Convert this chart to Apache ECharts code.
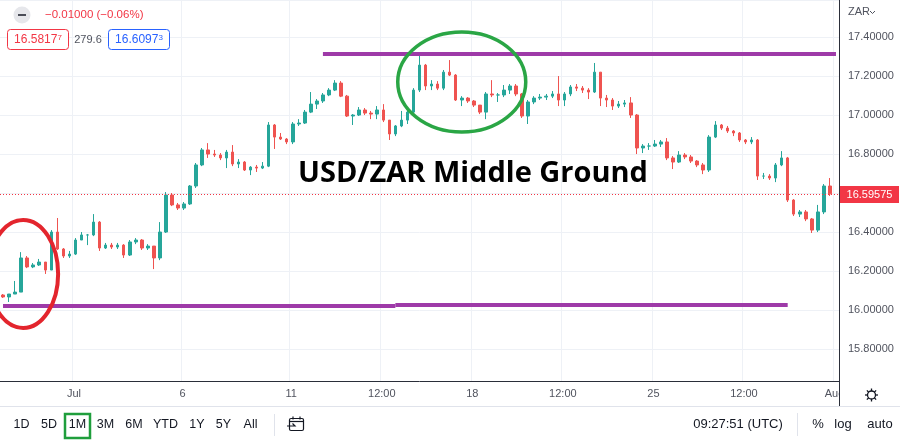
<!DOCTYPE html>
<html><head><meta charset="utf-8">
<script src="https://cdn.jsdelivr.net/npm/echarts@6/dist/echarts.min.js"></script>
<style>html,body{margin:0;padding:0;background:#fff}#c{width:900px;height:442px}</style>
</head><body><div id="c"></div>
<script>
// ---- categories (4-hour slots, trading days only) ----
const days = ['Jun 29','Jun 30','Jul 1','Jul 4','Jul 5','Jul 6','Jul 7','Jul 8','Jul 11','Jul 12','Jul 13','Jul 14','Jul 15','Jul 18','Jul 19','Jul 20','Jul 21','Jul 22','Jul 25','Jul 26','Jul 27','Jul 28','Jul 29'];
const hours = ['00:00','04:00','08:00','12:00','16:00','20:00'];
const lastSlot = 'Aug 1 00:00';
const categories = [];
days.forEach(d => hours.forEach(h => categories.push(d + ' ' + h)));
categories.push(lastSlot);

// ---- x tick labels ----
const tickCats = ['Jul 1 00:00','Jul 6 00:00','Jul 11 00:00','Jul 13 12:00','Jul 18 00:00','Jul 20 12:00','Jul 25 00:00','Jul 27 12:00','Aug 1 00:00'];
const tickLabels = ['Jul','6','11','12:00','18','12:00','25','12:00','Aug'];

// ---- OHLC values ----
const opens = [16.077,16.067,16.082,16.092,16.267,16.221,16.231,16.246,16.205,16.400,
16.313,16.277,16.287,16.359,16.385,16.385,16.451,16.318,16.333,16.323,
16.333,16.282,16.349,16.359,16.318,16.328,16.267,16.400,16.590,16.539,
16.523,16.544,16.636,16.744,16.821,16.800,16.795,16.780,16.810,16.749,
16.759,16.718,16.733,16.728,16.738,16.949,16.887,16.877,16.862,16.954,
16.959,17.015,17.056,17.072,17.103,17.128,17.164,17.097,16.995,17.000,
17.026,17.010,17.005,17.026,16.974,16.903,16.944,16.974,17.015,17.128,
17.256,17.149,17.159,17.138,17.220,17.205,17.077,17.087,17.072,17.051,
17.015,17.108,17.103,17.103,17.128,17.149,17.108,16.995,17.067,17.087,
17.092,17.097,17.108,17.077,17.108,17.144,17.138,17.128,17.118,17.220,
17.087,17.077,17.046,17.056,17.062,17.000,16.831,16.841,16.841,16.851,
16.862,16.780,16.759,16.795,16.785,16.764,16.744,16.718,16.887,16.949,
16.933,16.918,16.908,16.872,16.862,16.872,16.687,16.687,16.677,16.744,
16.780,16.564,16.492,16.503,16.467,16.410,16.503,16.636];
const closes = [16.067,16.082,16.092,16.267,16.221,16.231,16.246,16.205,16.400,16.313,
16.277,16.287,16.359,16.385,16.385,16.451,16.318,16.333,16.323,16.333,
16.282,16.349,16.359,16.318,16.328,16.267,16.400,16.590,16.539,16.523,
16.544,16.636,16.744,16.821,16.800,16.795,16.780,16.810,16.749,16.759,
16.718,16.733,16.728,16.738,16.949,16.887,16.877,16.862,16.954,16.959,
17.015,17.056,17.072,17.103,17.128,17.164,17.097,16.995,17.000,17.026,
17.010,17.005,17.026,16.974,16.903,16.944,16.974,17.015,17.128,17.256,
17.149,17.159,17.138,17.220,17.205,17.077,17.087,17.072,17.051,17.015,
17.108,17.103,17.103,17.128,17.149,17.108,16.995,17.067,17.087,17.092,
17.097,17.108,17.077,17.108,17.144,17.138,17.128,17.118,17.220,17.087,
17.077,17.046,17.056,17.062,17.000,16.831,16.841,16.841,16.851,16.862,
16.780,16.759,16.795,16.785,16.764,16.744,16.718,16.887,16.949,16.933,
16.918,16.908,16.872,16.862,16.872,16.687,16.687,16.677,16.744,16.780,
16.564,16.492,16.503,16.467,16.410,16.503,16.636,16.59575];
const highs = [16.082,16.082,16.149,16.297,16.277,16.241,16.262,16.246,16.410,16.472,
16.318,16.303,16.369,16.400,16.390,16.492,16.456,16.344,16.344,16.344,
16.338,16.359,16.369,16.364,16.338,16.328,16.451,16.605,16.600,16.549,
16.554,16.641,16.754,16.831,16.856,16.821,16.805,16.821,16.846,16.774,
16.764,16.738,16.744,16.759,16.964,16.954,16.908,16.882,16.964,16.979,
17.026,17.118,17.082,17.113,17.138,17.179,17.174,17.103,17.005,17.041,
17.036,17.021,17.046,17.056,16.974,16.949,17.021,17.036,17.138,17.303,
17.262,17.179,17.174,17.231,17.282,17.210,17.097,17.092,17.077,17.051,
17.118,17.179,17.113,17.154,17.159,17.159,17.113,17.077,17.097,17.108,
17.108,17.123,17.200,17.118,17.154,17.159,17.149,17.138,17.267,17.220,
17.103,17.087,17.072,17.077,17.092,17.005,16.851,16.856,16.872,16.872,
16.882,16.790,16.815,16.805,16.795,16.769,16.754,16.897,16.969,16.954,
16.944,16.923,16.913,16.877,16.887,16.877,16.703,16.697,16.754,16.815,
16.785,16.569,16.513,16.513,16.472,16.539,16.646,16.677];
const lows = [16.062,16.041,16.082,16.092,16.215,16.215,16.226,16.185,16.205,16.308,
16.267,16.267,16.282,16.359,16.333,16.379,16.303,16.313,16.313,16.313,
16.267,16.277,16.338,16.308,16.308,16.210,16.256,16.395,16.533,16.513,
16.513,16.539,16.626,16.738,16.780,16.785,16.769,16.728,16.738,16.728,
16.713,16.692,16.708,16.723,16.733,16.826,16.872,16.851,16.851,16.944,
16.954,17.010,17.031,17.062,17.097,17.123,17.092,16.990,16.949,16.995,
17.000,16.979,16.979,16.964,16.872,16.892,16.938,16.954,17.010,17.118,
17.128,17.128,17.128,17.128,17.200,17.072,17.046,17.062,17.041,17.005,
16.979,17.092,17.067,17.092,17.108,17.097,16.985,16.954,17.056,17.077,
17.077,17.087,17.046,17.046,17.097,17.123,17.113,17.082,17.113,17.046,
17.041,17.026,17.036,17.041,16.985,16.800,16.805,16.821,16.836,16.836,
16.769,16.723,16.754,16.774,16.754,16.733,16.697,16.708,16.882,16.923,
16.908,16.892,16.862,16.851,16.851,16.667,16.672,16.667,16.656,16.738,
16.554,16.482,16.477,16.456,16.395,16.400,16.492,16.585];

const lastPrice = 16.59575;
// annotation levels
const resistance = {from:'Jul 11 20:00', to:'Aug 1 00:00', price:17.315};
const supportA = {from:'Jun 29 00:00', to:'Jul 13 20:00', price:16.023};
const supportB = {from:'Jul 13 20:00', to:'Jul 28 16:00', price:16.028};
const redRing = {cat:'Jun 29 12:00', price:16.185};
const greenRing = {cat:'Jul 15 16:00', price:17.169};

const FONT = "'Liberation Sans',Arial,sans-serif";
const UP = '#26a69a', DOWN = '#ef5350', PURPLE = '#9e3aa8', PRICE_RED = '#f23645';
const GRIDC = '#eef1f6', TXT = '#131722', AXT = '#50535e';

const ohlc = closes.map((c, i) => [opens[i], c, lows[i], highs[i]]);

const chart = echarts.init(document.getElementById('c'), null, {renderer:'canvas'});
chart.setOption({
  animation:false,
  backgroundColor:'#ffffff',
  textStyle:{fontFamily:FONT},
  grid:{left:0, right:61, top:0, bottom:61},
  xAxis:{
    type:'category', data:categories, boundaryGap:true,
    axisLine:{lineStyle:{color:'#2a2e39', width:1}},
    axisTick:{show:false},
    axisLabel:{
      interval:(i, v) => tickCats.includes(v),
      formatter:(v) => { const k = tickCats.indexOf(v); return k >= 0 ? tickLabels[k] : ''; },
      color:AXT, fontSize:11, margin:7, padding:[0,3,0,0], fontFamily:FONT
    },
    splitLine:{show:true, interval:(i, v) => tickCats.includes(v), lineStyle:{color:GRIDC, width:1}}
  },
  yAxis:{
    type:'value', position:'right', min:15.636, max:17.590, splitNumber:10,
    axisLine:{show:true, lineStyle:{color:'#2a2e39', width:1}},
    axisTick:{show:false},
    axisLabel:{formatter:v => v.toFixed(5), color:AXT, fontSize:11, margin:9, showMinLabel:false, showMaxLabel:false, fontFamily:FONT},
    splitLine:{show:true, lineStyle:{color:GRIDC, width:1}}
  },
  series:[{
    type:'candlestick', data:ohlc, barWidth:'50%',
    itemStyle:{color:UP, color0:DOWN, borderColor:UP, borderColor0:DOWN, borderWidth:1},
    markLine:{
      symbol:['none','none'], silent:true, animation:false,
      label:{show:false},
      data:[
        [{coord:[resistance.from, resistance.price], lineStyle:{color:PURPLE, width:4, type:'solid'}},
         {coord:[resistance.to, resistance.price]}],
        [{coord:[supportA.from, supportA.price], lineStyle:{color:PURPLE, width:4, type:'solid'}},
         {coord:[supportA.to, supportA.price]}],
        [{coord:[supportB.from, supportB.price], lineStyle:{color:PURPLE, width:4, type:'solid'}},
         {coord:[supportB.to, supportB.price]}]
      ]
    }
  }]
});

const rp = chart.convertToPixel({gridIndex:0}, [redRing.cat, redRing.price]);
const gp = chart.convertToPixel({gridIndex:0}, [greenRing.cat, greenRing.price]);
const lp = chart.convertToPixel({gridIndex:0}, [lastSlot, lastPrice]);
const lastY = Math.round(lp[1]) + 0.5;

function txt(x, y, s, opt, z) {
  return {type:'text', x:x, y:y, z:(z || 100), silent:true,
    style:Object.assign({text:s, fill:TXT, font:"13px " + FONT, textAlign:'center', textVerticalAlign:'middle'}, opt || {})};
}
const gear = [];
for (let k = 0; k < 8; k++) {
  const a = k * Math.PI / 4;
  gear.push({type:'line', z:102, silent:true, shape:{x1:871.5 + Math.cos(a)*4, y1:395 + Math.sin(a)*4, x2:871.5 + Math.cos(a)*6.5, y2:395 + Math.sin(a)*6.5}, style:{stroke:TXT, lineWidth:1.3}});
}
const toolbar = [['1D',21.5],['5D',49],['1M',77.5],['3M',105.5],['6M',134],['YTD',165.5],['1Y',197],['5Y',223.5],['All',250.5]];

chart.setOption({graphic:[
  // last price dotted line + price tag
  {type:'line', z:80, silent:true, shape:{x1:0, y1:lastY, x2:839, y2:lastY}, style:{stroke:PRICE_RED, lineWidth:1, lineDash:[1,2]}},
  {type:'rect', z:110, silent:true, shape:{x:840, y:Math.round(lp[1]) - 8, width:59, height:17}, style:{fill:PRICE_RED}},
  txt(869.5, Math.round(lp[1]) + 0.5, lastPrice.toFixed(5), {fill:'#ffffff', font:"11px " + FONT}, 120),
  // annotations
  {type:'ellipse', z:90, silent:true, shape:{cx:rp[0] + 2, cy:rp[1], rx:35, ry:54}, style:{fill:'none', stroke:'#e3252d', lineWidth:4}},
  {type:'ellipse', z:90, silent:true, shape:{cx:gp[0], cy:gp[1], rx:64, ry:50}, style:{fill:'none', stroke:'#2aa645', lineWidth:3.5}},
  txt(473, 174, 'USD/ZAR Middle Ground', {font:"bold 29px 'Open Sans', sans-serif", fill:'#000000'}),
  // header
  {type:'circle', z:100, silent:true, shape:{cx:22, cy:15, r:8.5}, style:{fill:'#e6e7eb'}},
  {type:'rect', z:101, silent:true, shape:{x:18, y:14, width:8, height:2}, style:{fill:'#4a4d57'}},
  txt(45, 15, '\u22120.01000 (\u22120.06%)', {textAlign:'left', fill:PRICE_RED, font:"11.5px " + FONT}),
  {type:'rect', z:100, silent:true, shape:{x:7.5, y:29.5, width:61, height:20, r:3}, style:{fill:'#fff', stroke:PRICE_RED, lineWidth:1}},
  txt(38, 40, '16.5817{s|7}', {fill:PRICE_RED, font:"12px " + FONT, rich:{s:{fontSize:8, fill:PRICE_RED, verticalAlign:'top', fontFamily:FONT}}}, 101),
  txt(88, 40, '279.6', {fill:'#50535e', font:"11px " + FONT}),
  {type:'rect', z:100, silent:true, shape:{x:108.5, y:29.5, width:61, height:20, r:3}, style:{fill:'#fff', stroke:'#2962ff', lineWidth:1}},
  txt(139, 40, '16.6097{s|3}', {fill:'#2962ff', font:"12px " + FONT, rich:{s:{fontSize:8, fill:'#2962ff', verticalAlign:'top', fontFamily:FONT}}}, 101),
  // right axis header
  txt(848, 12, 'ZAR', {textAlign:'left', fill:AXT, font:"11px " + FONT}),
  {type:'polyline', z:100, silent:true, shape:{points:[[870,11],[872.5,13.5],[875,11]]}, style:{stroke:AXT, lineWidth:1, fill:'none'}},
  // cover for clipped "Aug" + gear
  {type:'rect', z:100, silent:true, shape:{x:840, y:382, width:60, height:23}, style:{fill:'#ffffff'}},
  {type:'line', z:101, silent:true, shape:{x1:839.5, y1:381, x2:839.5, y2:406}, style:{stroke:'#2a2e39', lineWidth:1}},
  {type:'circle', z:102, silent:true, shape:{cx:871.5, cy:395, r:4}, style:{fill:'none', stroke:TXT, lineWidth:1.3}}
].concat(gear).concat([
  // toolbar
  {type:'line', z:100, silent:true, shape:{x1:0, y1:406.5, x2:900, y2:406.5}, style:{stroke:'#e0e3eb', lineWidth:1}},
  {type:'rect', z:100, silent:true, shape:{x:65, y:414, width:25, height:24}, style:{fill:'none', stroke:'#1f9e3c', lineWidth:2.5}}
]).concat(toolbar.map(t => txt(t[1], 425, t[0], {font:"12.5px " + FONT}))).concat([
  {type:'line', z:100, silent:true, shape:{x1:274.5, y1:414, x2:274.5, y2:436}, style:{stroke:'#e0e3eb', lineWidth:1}},
  {type:'rect', z:100, silent:true, shape:{x:289.5, y:418.5, width:14, height:12, r:1.5}, style:{fill:'none', stroke:TXT, lineWidth:1.2}},
  {type:'line', z:100, silent:true, shape:{x1:289.5, y1:421.5, x2:303.5, y2:421.5}, style:{stroke:TXT, lineWidth:1.2}},
  {type:'line', z:100, silent:true, shape:{x1:293, y1:416.5, x2:293, y2:419.5}, style:{stroke:TXT, lineWidth:1.2}},
  {type:'line', z:100, silent:true, shape:{x1:300, y1:416.5, x2:300, y2:419.5}, style:{stroke:TXT, lineWidth:1.2}},
  {type:'polyline', z:101, silent:true, shape:{points:[[287,426],[295,426],[292.5,423.5]]}, style:{stroke:TXT, lineWidth:1.2, fill:'none'}},
  txt(738, 424, '09:27:51 (UTC)', {font:"13px " + FONT}),
  {type:'line', z:100, silent:true, shape:{x1:797.5, y1:413, x2:797.5, y2:436}, style:{stroke:'#e0e3eb', lineWidth:1}},
  txt(818, 424, '%', {font:"13px " + FONT}),
  txt(843, 424, 'log', {font:"13px " + FONT}),
  txt(880, 424, 'auto', {font:"13px " + FONT})
])});
</script>
</body></html>
